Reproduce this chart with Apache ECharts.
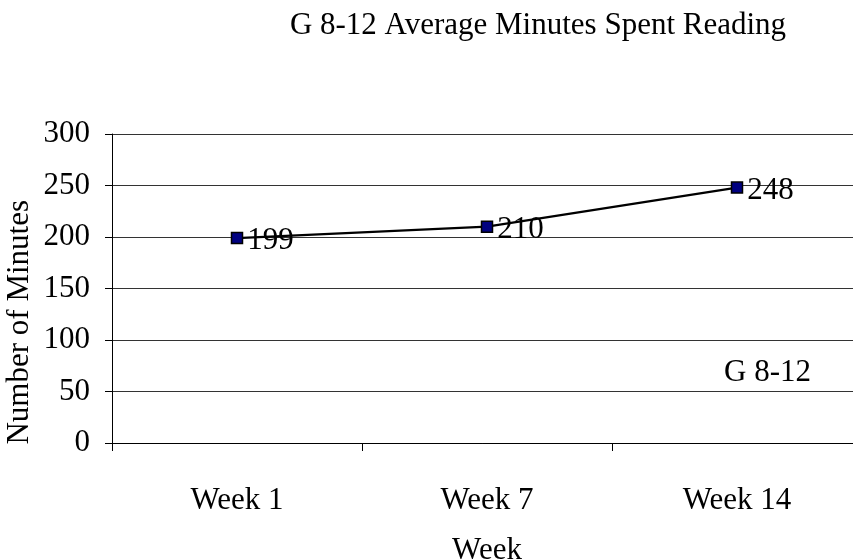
<!DOCTYPE html>
<html>
<head>
<meta charset="utf-8">
<script src="https://cdn.jsdelivr.net/npm/echarts@6/dist/echarts.min.js"></script>
<style>html,body{margin:0;padding:0;background:#fff}#c{width:853px;height:560px}</style>
</head>
<body>
<div id="c"></div>
<script>
var categories = ['Week 1', 'Week 7', 'Week 14'];
var seriesName = 'G 8-12';
var values = [199, 210, 248];
var yTicks = [0, 50, 100, 150, 200, 250, 300];
var titleText = 'G 8-12 Average Minutes Spent Reading';
var xName = 'Week';
var yName = 'Number of Minutes';

var FONT = 'Liberation Serif';
var FS = 31;
var chart = echarts.init(document.getElementById('c'), null, {renderer: 'canvas'});
chart.setOption({
  animation: false,
  backgroundColor: '#fff',
  title: {
    text: titleText, left: 533, top: 5, textAlign: 'center',
    textStyle: {fontFamily: FONT, fontSize: FS, fontWeight: 'normal', color: '#000'}
  },
  legend: {
    data: [{name: seriesName, icon: 'none'}],
    left: 714, top: 352, itemWidth: 0, itemGap: 0,
    textStyle: {fontFamily: FONT, fontSize: FS, color: '#000'}
  },
  graphic: [
    {type: 'text', left: 4, top: 200, rotation: Math.PI / 2,
     style: {text: yName, fontFamily: FONT, fontSize: FS, fill: '#000'}}
  ],
  grid: {left: 112, top: 134, width: 750, height: 309, containLabel: false, outerBoundsMode: 'none'},
  xAxis: {
    type: 'category', data: categories, boundaryGap: true,
    name: xName, nameLocation: 'middle', nameGap: 92,
    nameTextStyle: {fontFamily: FONT, fontSize: FS, color: '#000'},
    axisLine: {lineStyle: {color: '#000', width: 1}},
    axisTick: {show: true, length: 8, lineStyle: {color: '#000'}},
    axisLabel: {fontFamily: FONT, fontSize: FS, color: '#000', margin: 42},
    splitLine: {show: false}
  },
  yAxis: {
    type: 'value', min: 0, max: 300, interval: 50,
    axisLine: {show: true, lineStyle: {color: '#000', width: 1}},
    axisTick: {show: true, length: 7, lineStyle: {color: '#000'}},
    axisLabel: {fontFamily: FONT, fontSize: FS, color: '#000', margin: 22,
      formatter: function (v) { return yTicks.indexOf(v) >= 0 ? String(v) : ''; }},
    splitLine: {show: true, lineStyle: {color: '#333', width: 1}}
  },
  series: [{
    name: seriesName, type: 'line', data: values,
    symbol: 'rect', symbolSize: 11,
    itemStyle: {color: '#000080', borderColor: '#000', borderWidth: 1.5},
    lineStyle: {color: '#000', width: 2.2},
    label: {show: true, position: 'right', distance: 4, fontFamily: FONT, fontSize: FS, color: '#000', offset: [0, 3]}
  }]
});
</script>
</body>
</html>
